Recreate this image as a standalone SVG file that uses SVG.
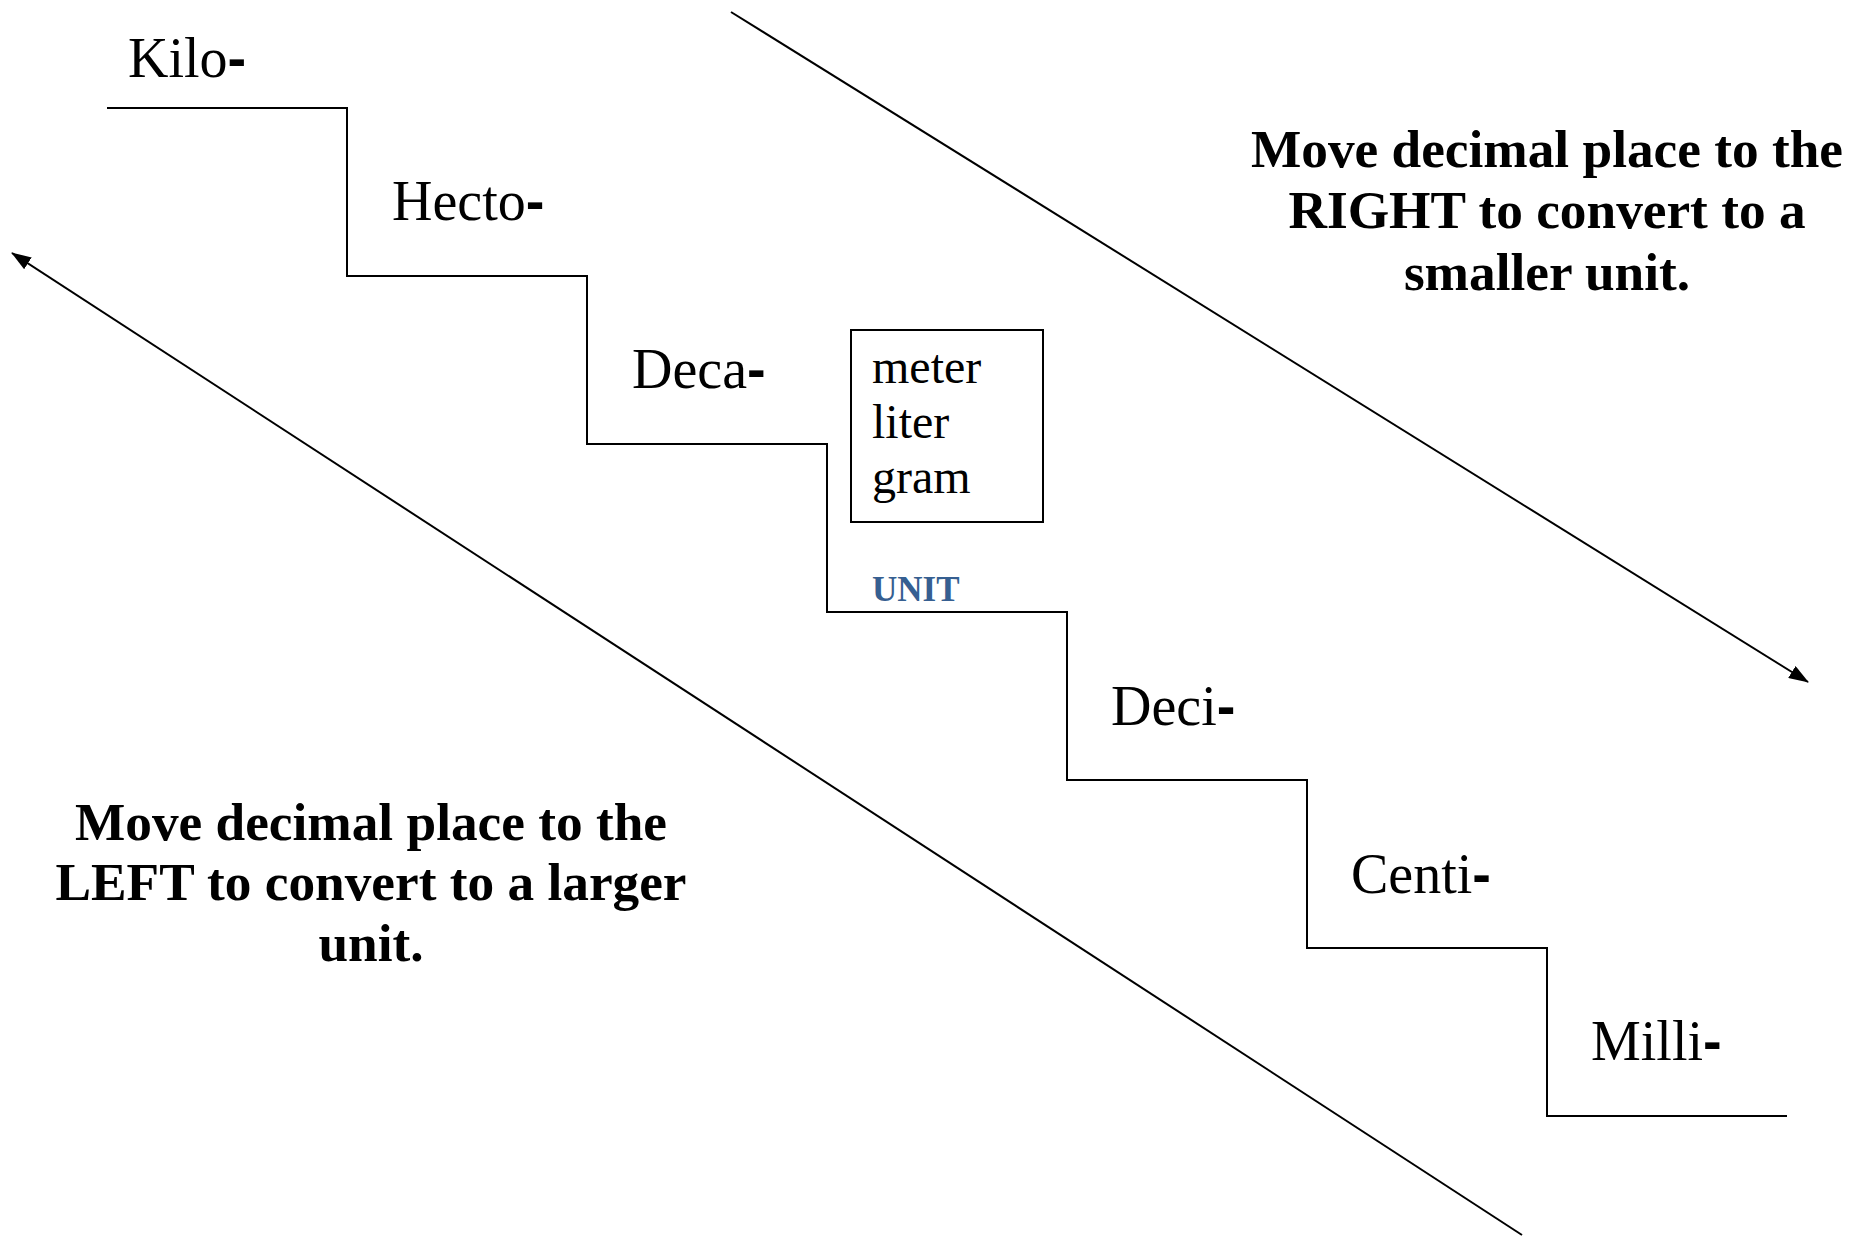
<svg xmlns="http://www.w3.org/2000/svg" width="1870" height="1238" viewBox="0 0 1870 1238">
<style>
  .prefix { font-family: "Liberation Serif", "Times New Roman", serif; font-size: 56px; fill: #000; }
  .dash { font-family: "Liberation Sans", Arial, sans-serif; font-weight: bold; }
  .unitname { font-family: "Liberation Serif", "Times New Roman", serif; font-size: 48px; fill: #000; }
  .note { font-family: "Liberation Serif", "Times New Roman", serif; font-size: 53.3px; font-weight: bold; fill: #000; text-anchor: middle; }
  .unitlabel { font-family: "Liberation Serif", "Times New Roman", serif; font-size: 35px; font-weight: bold; fill: #365F91; }
  .line { fill: none; stroke: #000; stroke-width: 2; }
</style>
<defs>
  <marker id="arrowhead" viewBox="0 0 20 14" refX="19" refY="7" markerWidth="20" markerHeight="14" markerUnits="userSpaceOnUse" orient="auto">
    <path d="M0,0 L20,7 L0,14 Z" fill="#000"/>
  </marker>
</defs>
<rect width="1870" height="1238" fill="#fff"/>

<g id="connectors">
  <path id="staircase" class="line" d="M107,108 H347 V276 H587 V444 H827 V612 H1067 V780 H1307 V948 H1547 V1116 H1787"/>
  <line id="arrow-right" class="line" x1="731" y1="12" x2="1808" y2="682" marker-end="url(#arrowhead)"/>
  <line id="arrow-left" class="line" x1="1522" y1="1235" x2="12" y2="253" marker-end="url(#arrowhead)"/>
</g>

<g id="kilo"><text class="prefix" x="128" y="77">Kilo<tspan class="dash">-</tspan></text></g>
<g id="hecto"><text class="prefix" x="392" y="220">Hecto<tspan class="dash">-</tspan></text></g>
<g id="deca"><text class="prefix" x="632" y="388">Deca<tspan class="dash">-</tspan></text></g>
<g id="deci"><text class="prefix" x="1111" y="725">Deci<tspan class="dash">-</tspan></text></g>
<g id="centi"><text class="prefix" x="1351" y="893">Centi<tspan class="dash">-</tspan></text></g>
<g id="milli"><text class="prefix" x="1591" y="1060">Milli<tspan class="dash">-</tspan></text></g>

<g id="unit-box">
  <rect class="line" x="851" y="330" width="192" height="192"/>
  <text class="unitname" x="872" y="383">meter</text>
  <text class="unitname" x="872" y="438">liter</text>
  <text class="unitname" x="872" y="493">gram</text>
</g>

<g id="unit-label"><text class="unitlabel" x="872" y="601">UNIT</text></g>

<g id="note-right">
  <text class="note" x="1547" y="167">Move decimal place to the</text>
  <text class="note" x="1547" y="228">RIGHT to convert to a</text>
  <text class="note" x="1547" y="290">smaller unit.</text>
</g>

<g id="note-left">
  <text class="note" x="371" y="840">Move decimal place to the</text>
  <text class="note" x="371" y="900">LEFT to convert to a larger</text>
  <text class="note" x="371" y="961">unit.</text>
</g>
</svg>
